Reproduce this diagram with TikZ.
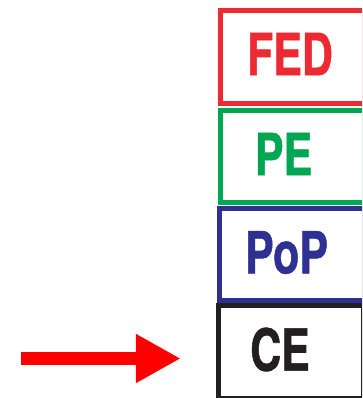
\documentclass[tikz,border=0pt]{standalone}
\usepackage{fontspec}
\setmainfont{TeX Gyre Heros}
\newfontfamily\heavyfont[FakeBold=1.2]{TeX Gyre Heros Bold}
\usetikzlibrary{arrows.meta}
\definecolor{fedred}{RGB}{237,42,50}
\definecolor{pegreen}{RGB}{0,166,81}
\definecolor{popblue}{RGB}{46,49,146}
\definecolor{ceblack}{RGB}{35,31,32}
\definecolor{arrowred}{RGB}{255,0,0}
\tikzset{
  layerbox/.style={draw=#1, line width=5pt, rectangle, inner sep=0pt},
  layertext/.style={text=#1, inner sep=0pt, font=\fontsize{58}{60}\heavyfont},
  bigarrow/.style={draw=arrowred, line width=13pt, -{Triangle[length=45pt,width=46pt]}}
}
\newcommand{\narrowtxt}[1]{\scalebox{0.74}[1]{#1}}
\begin{document}
\begin{tikzpicture}[x=1pt,y=-1pt]
\useasboundingbox (0,0) rectangle (362,398);
\clip (0,0) rectangle (362,398);
\node[layerbox=fedred, minimum width=143.5pt, minimum height=93pt] (fed) at (292.25,57) {};
\node[layerbox=pegreen, minimum width=143.5pt, minimum height=92pt] (pe) at (292.25,156.5) {};
\node[layerbox=popblue, minimum width=144.5pt, minimum height=92.5pt] (pop) at (291.75,254.25) {};
\node[layerbox=ceblack, minimum width=145.5pt, minimum height=93pt] (ce) at (291,352) {};
\node[layertext=fedred] (fedt) at (290,54) {\narrowtxt{FED}};
\node[layertext=pegreen] (pet) at (283.5,154) {\narrowtxt{PE}};
\node[layertext=popblue] (popt) at (286.5,252.5) {\narrowtxt{PoP}};
\node[layertext=ceblack] (cet) at (280,349.5) {\narrowtxt{CE}};
\coordinate (arrowstart) at (21,358.5);
\draw[bigarrow] (arrowstart) -- ([xshift=-35pt,yshift=-6.5pt]ce.west);
\end{tikzpicture}
\end{document}
